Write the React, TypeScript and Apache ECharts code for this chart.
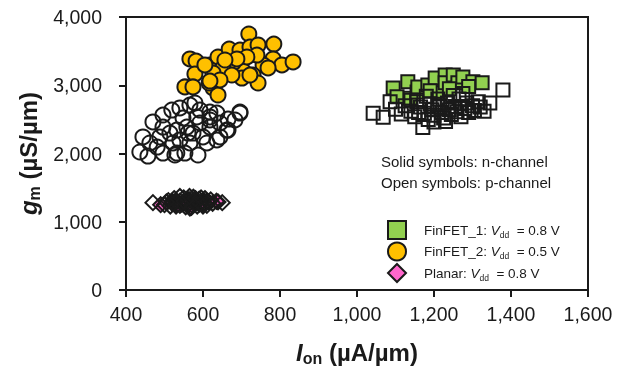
import React, { useEffect, useRef } from "react";
import * as echarts from "echarts";

const xTicks = { min: 400, max: 1600, interval: 200 };
const yTicks = { min: 0, max: 4000, interval: 1000 };

const finfet1N: number[][] = [
  [1094, 2960], [1104, 2830], [1132, 3050], [1138, 2810], [1156, 2900], [1158, 2975],
  [1184, 3005], [1203, 3105], [1216, 2890], [1229, 3150], [1229, 3035], [1250, 3150],
  [1262, 3035], [1275, 3120], [1301, 3050], [1325, 3035], [1240, 2950], [1190, 2920],
  [1290, 2980],
];
const finfet1P: number[][] = [
  [1042, 2590], [1068, 2530], [1086, 2760], [1100, 2650], [1115, 2580], [1125, 2700],
  [1140, 2620], [1150, 2540], [1155, 2760], [1165, 2680], [1171, 2380], [1175, 2590],
  [1185, 2500], [1190, 2720], [1195, 2640], [1200, 2560], [1210, 2800], [1215, 2680],
  [1220, 2600], [1225, 2520], [1235, 2740], [1240, 2640], [1245, 2570], [1255, 2690],
  [1260, 2610], [1265, 2800], [1270, 2540], [1280, 2660], [1285, 2740], [1290, 2600],
  [1300, 2700], [1305, 2630], [1315, 2760], [1320, 2680], [1330, 2620], [1345, 2740],
  [1379, 2930], [1200, 2460], [1230, 2470], [1180, 2840], [1250, 2850], [1160, 2600],
  [1210, 2720], [1275, 2880], [1140, 2780],
];
const finfet2N: number[][] = [
  [566, 3385], [582, 3355], [579, 3165], [553, 2975], [574, 2975], [626, 2960],
  [639, 2857], [616, 3033], [618, 3297], [639, 3414], [668, 3531], [696, 3516],
  [719, 3751], [722, 3560], [743, 3590], [784, 3604], [782, 3385], [805, 3297],
  [834, 3341], [756, 3297], [704, 3209], [678, 3326], [652, 3253], [730, 3150],
  [743, 3033], [701, 3106], [675, 3150], [626, 3180], [644, 3077], [605, 3297],
  [740, 3443], [714, 3414], [688, 3385], [657, 3370], [769, 3253], [722, 3150],
  [618, 3062],
];
const finfet2P: number[][] = [
  [436, 2022], [457, 1963], [444, 2242], [470, 2462], [496, 2564], [519, 2637],
  [540, 2667], [579, 2740], [592, 2637], [618, 2608], [636, 2593], [696, 2593],
  [683, 2491], [662, 2344], [636, 2198], [610, 2154], [587, 1978], [553, 2007],
  [532, 2007], [496, 2007], [481, 2095], [462, 2154], [532, 2344], [558, 2388],
  [514, 2300], [574, 2300], [592, 2447], [548, 2520], [496, 2388], [488, 2242],
  [540, 2198], [566, 2154], [600, 2242], [618, 2388], [644, 2447], [522, 2154],
  [584, 2535], [618, 2491], [561, 2300], [696, 2608], [665, 2505], [644, 2242],
  [665, 2344], [527, 1978], [618, 2535], [566, 2710],
];
const planarN: number[][] = [
  [639, 1290], [600, 1260], [490, 1250], [566, 1200], [520, 1300], [550, 1280],
  [580, 1310], [530, 1260], [610, 1300], [560, 1330], [540, 1240],
];
const planarP: number[][] = [
  [470, 1280], [500, 1250], [510, 1310], [520, 1270], [525, 1340], [530, 1230],
  [540, 1300], [545, 1260], [550, 1350], [555, 1220], [560, 1290], [565, 1320],
  [570, 1250], [575, 1360], [580, 1280], [585, 1230], [590, 1330], [595, 1270],
  [600, 1300], [605, 1340], [610, 1240], [615, 1290], [620, 1320], [540, 1370],
  [570, 1210], [530, 1290], [560, 1240], [590, 1260], [550, 1300], [580, 1340],
  [600, 1230], [625, 1270], [635, 1300], [650, 1280], [515, 1230], [505, 1290],
  [565, 1370], [595, 1350],
];
const legendVdd: Record<string, string> = { "FinFET_1": "0.8", "FinFET_2": "0.5", "Planar": "0.8" };

const INK = "#1a1a1a";
const FONT = "'Liberation Sans', Arial, sans-serif";

export default function App() {
  const ref = useRef<HTMLDivElement>(null);
  useEffect(() => {
    if (!ref.current) return;
    const chart = echarts.init(ref.current, null, { renderer: "svg" });
    const filled = (name: string, data: number[][], symbol: string, size: number, color: string) => ({
      name, type: "scatter", data, symbol, symbolSize: size,
      itemStyle: { color, borderColor: INK, borderWidth: 2, opacity: 1 },
      emphasis: { disabled: true },
    });
    const open = (name: string, data: number[][], symbol: string, size: number) => ({
      name, type: "scatter", data, symbol, symbolSize: size,
      itemStyle: { color: "rgba(0,0,0,0)", borderColor: INK, borderWidth: 2, opacity: 1 },
      emphasis: { disabled: true },
    });
    const axisRich = {
      i: { fontSize: 24, fontWeight: "bold", fontStyle: "italic", fontFamily: FONT, color: INK, lineHeight: 28 },
      s: { fontSize: 16, fontWeight: "bold", fontFamily: FONT, color: INK, lineHeight: 18, verticalAlign: "bottom" },
      n: { fontSize: 24, fontWeight: "bold", fontFamily: FONT, color: INK, lineHeight: 28 },
    };
    chart.setOption({
      animation: false,
      textStyle: { fontFamily: FONT },
      grid: { left: 126, right: 38, top: 17, bottom: 84, show: true, borderColor: INK, borderWidth: 2, backgroundColor: "transparent" },
      xAxis: {
        type: "value", ...xTicks,
        splitLine: { show: false },
        axisLine: { show: true, lineStyle: { color: INK, width: 2 } },
        axisTick: { show: true, inside: false, length: 7, lineStyle: { color: INK, width: 2 } },
        axisLabel: { color: INK, fontSize: 19.5, margin: 14, fontFamily: FONT, formatter: (v: number) => v.toLocaleString("en-US") },
        name: "{i|I}{s|on}{n| (µA/µm)}",
        nameLocation: "middle",
        nameGap: 48,
        nameTextStyle: { rich: axisRich },
      },
      yAxis: {
        type: "value", ...yTicks,
        splitLine: { show: false },
        axisLine: { show: true, lineStyle: { color: INK, width: 2 } },
        axisTick: { show: true, inside: false, length: 7, lineStyle: { color: INK, width: 2 } },
        axisLabel: { color: INK, fontSize: 19.5, margin: 24, fontFamily: FONT, formatter: (v: number) => v.toLocaleString("en-US") },
        name: "{i|g}{s|m}{n| (µS/µm)}",
        nameLocation: "middle",
        nameRotate: 90,
        nameGap: 84,
        nameTextStyle: { rich: axisRich },
      },
      legend: {
        orient: "vertical",
        left: 382,
        top: 215,
        itemWidth: 18,
        itemHeight: 18,
        itemGap: 1.5,
        data: ["FinFET_1", "FinFET_2", "Planar"],
        selectedMode: false,
        formatter: (name: string) => `{n|${name}: }{i|V}{s|dd}{n|  = ${legendVdd[name]} V}`,
        textStyle: {
          padding: [0, 0, 0, 13],
          rich: {
            n: { fontSize: 13.5, fontFamily: FONT, color: INK, lineHeight: 18 },
            i: { fontSize: 13.5, fontFamily: FONT, fontStyle: "italic", color: INK, lineHeight: 18 },
            s: { fontSize: 8.5, fontFamily: FONT, color: INK, lineHeight: 6, verticalAlign: "bottom" },
          },
        },
      },
      graphic: [
        {
          type: "text", left: 381, top: 151,
          style: { text: "Solid symbols: n-channel\nOpen symbols: p-channel", fontSize: 15, lineHeight: 21, fontFamily: FONT, fill: INK },
        },
      ],
      series: [
        filled("FinFET_1", finfet1N, "rect", 13, "#92d050"),
        open("FinFET_1 p", finfet1P, "rect", 13),
        filled("FinFET_2", finfet2N, "circle", 15, "#ffc000"),
        open("FinFET_2 p", finfet2P, "circle", 15),
        filled("Planar", planarN, "diamond", 15, "#ff66cc"),
        open("Planar p", planarP, "diamond", 15),
      ],
    });
    return () => chart.dispose();
  }, []);
  return <div ref={ref} style={{ position: "fixed", left: 0, top: 0, width: 626, height: 374 }} />;
}
